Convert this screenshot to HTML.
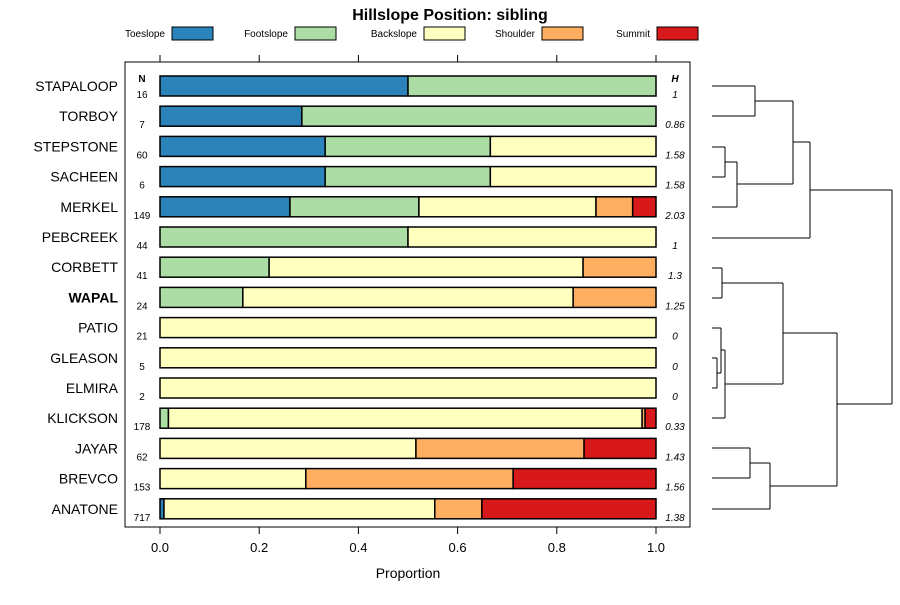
<!DOCTYPE html>
<html><head><meta charset="utf-8"><style>
body{margin:0;background:#fff;font-family:"Liberation Sans",sans-serif}
</style></head><body>
<svg id="c" width="900" height="600" xmlns="http://www.w3.org/2000/svg" font-family="Liberation Sans, sans-serif"></svg>
<script>
const categories=["STAPALOOP","TORBOY","STEPSTONE","SACHEEN","MERKEL","PEBCREEK","CORBETT","WAPAL","PATIO","GLEASON","ELMIRA","KLICKSON","JAYAR","BREVCO","ANATONE"];
const toeslope=[0.5,0.286,0.333,0.333,0.262,0,0,0,0,0,0,0,0,0,0.008];
const footslope=[0.5,0.714,0.333,0.333,0.26,0.5,0.22,0.167,0,0,0,0.017,0,0,0];
const backslope=[0,0,0.334,0.334,0.357,0.5,0.633,0.666,1,1,1,0.955,0.516,0.294,0.546];
const shoulder=[0,0,0,0,0.074,0,0.147,0.167,0,0,0,0.006,0.339,0.418,0.095];
const summit=[0,0,0,0,0.047,0,0,0,0,0,0,0.022,0.145,0.288,0.351];
const nValues=["16","7","60","6","149","44","41","24","21","5","2","178","62","153","717"];
const hValues=["1","0.86","1.58","1.58","2.03","1","1.3","1.25","0","0","0","0.33","1.43","1.56","1.38"];
const xTicks=[0,0.2,0.4,0.6,0.8,1];
const seriesNames=["Toeslope","Footslope","Backslope","Shoulder","Summit"];
const colors=["#2b83ba","#abdda4","#ffffbf","#fdae61","#d7191c"];
const svg=document.getElementById('c');
const NS="http://www.w3.org/2000/svg";
function el(t,a,txt){const e=document.createElementNS(NS,t);for(const k in a)e.setAttribute(k,a[k]);if(txt!==undefined)e.textContent=txt;svg.appendChild(e);return e;}
const x=v=>160+v*496;
const y=i=>86+i*30.2;
let e;
e=el('text',{x:450,y:20,'font-size':16,'font-weight':'bold','text-anchor':'middle'},'Hillslope Position: sibling');

const legX=[[165,172],[288,295],[417,424],[535,542],[650,657]];
seriesNames.forEach((s,k)=>{
 e=el('text',{x:legX[k][0],y:37,'font-size':10,'text-anchor':'end'},s);
 
 e=el('rect',{x:legX[k][1],y:27,width:41,height:13,fill:colors[k],stroke:'#000','stroke-width':1});
 
});
e=el('rect',{x:125,y:62,width:565,height:465,fill:'none',stroke:'#000','stroke-width':1});

xTicks.forEach(t=>{
 e=el('line',{x1:x(t),x2:x(t),y1:527,y2:534,stroke:'#000'});
 
 e=el('line',{x1:x(t),x2:x(t),y1:62,y2:55,stroke:'#000'});
 
 e=el('text',{x:x(t),y:552,'font-size':13,'text-anchor':'middle'},t.toFixed(1));
 
});
e=el('text',{x:408,y:578,'font-size':14,'text-anchor':'middle'},'Proportion');

e=el('text',{x:142,y:82,'font-size':10,'font-weight':'bold','text-anchor':'middle'},'N');

e=el('text',{x:675,y:82,'font-size':10,'font-weight':'bold','font-style':'italic','text-anchor':'middle'},'H');

const series=[toeslope,footslope,backslope,shoulder,summit];
categories.forEach((c,i)=>{
 const cy=y(i);
 e=el('text',{x:118,y:cy+5,'font-size':14,'text-anchor':'end','font-weight':c==='WAPAL'?'bold':'normal'},c);
 
 e=el('text',{x:142,y:cy+12,'font-size':10,'text-anchor':'middle'},nValues[i]);
 
 e=el('text',{x:675,y:cy+12,'font-size':10,'font-style':'italic','text-anchor':'middle'},hValues[i]);
 
 let cum=0;
 series.forEach((s,k)=>{
  if(s[i]>0){
   e=el('rect',{x:x(cum),y:cy-10,width:x(cum+s[i])-x(cum),height:20,fill:colors[k],stroke:'#000','stroke-width':1.5});
   
  }
  cum+=s[i];
 });
});
// dendrogram
const segs=[
[712,755,86],[712,755,116],[755,755,86,116],
[712,725,147],[712,725,177],[725,725,147,177],
[725,737,162],[712,737,207],[737,737,162,207],
[755,793,101],[737,793,184],[793,793,101,184],
[793,810,142],[712,810,238],[810,810,142,238],
[712,722,268],[712,722,298],[722,722,268,298],
[712,717,358],[712,717,388],[717,717,358,388],
[712,721,328],[717,721,373],[721,721,328,373],
[721,725,350],[712,725,418],[725,725,350,418],
[722,783,283],[725,783,384],[783,783,283,384],
[712,750,448],[712,750,478],[750,750,448,478],
[750,770,463],[712,770,509],[770,770,463,509],
[783,837,333],[770,837,486],[837,837,333,486],
[810,892,190],[837,892,404],[892,892,190,404]];
segs.forEach(s=>{
 const a=s.length===3?{x1:s[0],x2:s[1],y1:s[2],y2:s[2]}:{x1:s[0],x2:s[0],y1:s[2],y2:s[3]};
 a.stroke='#000';a['stroke-width']=1;
 e=el('line',a);
 
});
</script>
</body></html>
